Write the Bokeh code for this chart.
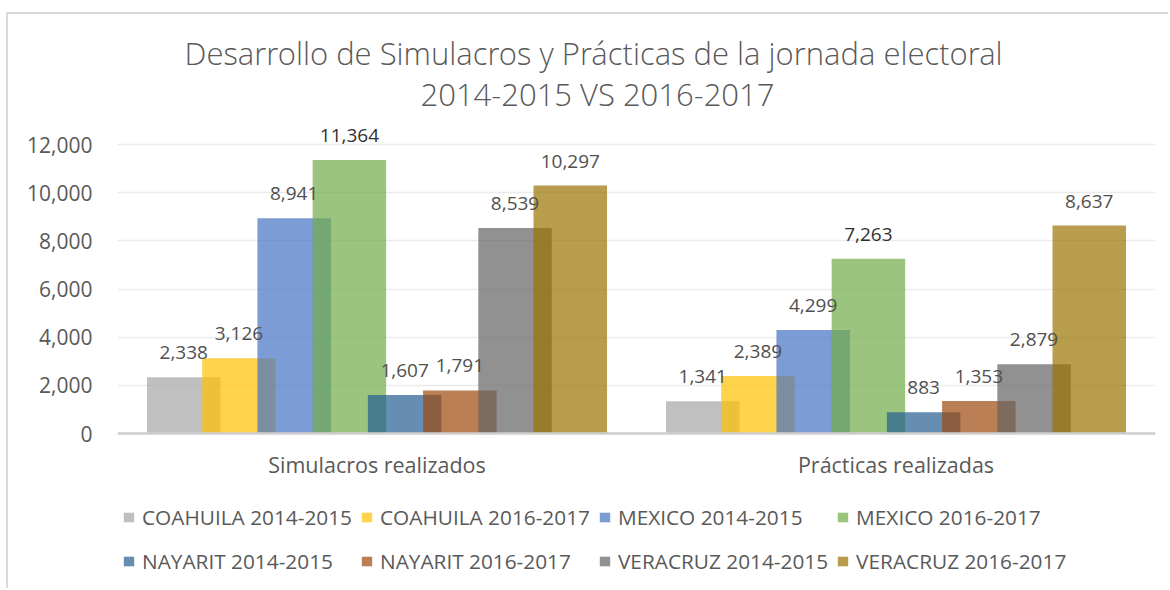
from bokeh.plotting import figure
from bokeh.models import (ColumnDataSource, FactorRange, Range1d, LabelSet, Legend, LegendItem,
                          Title, NumeralTickFormatter, FixedTicker, Span)
from bokeh.transform import dodge
from bokeh.core.properties import value
from bokeh.embed import file_html
from bokeh.resources import INLINE

categories = ["Simulacros realizados", "Prácticas realizadas"]
series_names = ["COAHUILA 2014-2015", "COAHUILA 2016-2017", "MEXICO 2014-2015", "MEXICO 2016-2017",
                "NAYARIT 2014-2015", "NAYARIT 2016-2017", "VERACRUZ 2014-2015", "VERACRUZ 2016-2017"]
coahuila_2014_2015 = [2338, 1341]
coahuila_2016_2017 = [3126, 2389]
mexico_2014_2015 = [8941, 4299]
mexico_2016_2017 = [11364, 7263]
nayarit_2014_2015 = [1607, 883]
nayarit_2016_2017 = [1791, 1353]
veracruz_2014_2015 = [8539, 2879]
veracruz_2016_2017 = [10297, 8637]
series_values = [coahuila_2014_2015, coahuila_2016_2017, mexico_2014_2015, mexico_2016_2017,
                 nayarit_2014_2015, nayarit_2016_2017, veracruz_2014_2015, veracruz_2016_2017]
y_ticks = [0, 2000, 4000, 6000, 8000, 10000, 12000]
colors = ["#A5A5A5", "#FFC000", "#4472C4", "#70AD47", "#255E91", "#9E480E", "#636363", "#997300"]
label_colors = ["#505050", "#505050", "#505050", "#303030", "#505050", "#505050", "#505050", "#505050"]
title_line1 = "Desarrollo de Simulacros y Prácticas de la jornada electoral"
title_line2 = "2014-2015 VS 2016-2017"

FONT = "Open Sans"
TFONT = "'Open Sans Light', 'Open Sans'"
GRAY = "#595959"

# the frame also holds the category labels and the legend below the value 0
p = figure(x_range=FactorRange(factors=categories, range_padding=0),
           y_range=Range1d(-6516, 13000),
           width=1162, height=576, output_backend="svg", toolbar_location=None,
           title=None, min_border_left=109, min_border_right=15, min_border_top=106,
           min_border_bottom=0,
           styles={"margin-left": "6px", "margin-top": "12px",
                   "border-left": "2px solid #d9d9d9", "border-top": "2px solid #d9d9d9"})
p.outline_line_color = None
p.background_fill_color = "white"

step = 0.1064
bar_w = 0.1416
items = []
for i, (name, vals, col, lc) in enumerate(zip(series_names, series_values, colors, label_colors)):
    off = (i - 3.5) * step
    src = ColumnDataSource(dict(cat=categories, val=vals, lab=[f"{v:,}" for v in vals]))
    r = p.vbar(x=dodge("cat", off, range=p.x_range), top="val", width=bar_w, source=src,
               fill_color=col, fill_alpha=0.7, line_color=None)
    items.append(LegendItem(label=name, renderers=[r]))
    labels = LabelSet(x=dodge("cat", off, range=p.x_range), y="val", text="lab", source=src,
                      text_align="center", text_baseline="alphabetic", y_offset=18,
                      text_font=value(FONT), text_font_size="19px", text_color=lc)
    p.add_layout(labels)

# category axis line and labels
p.add_layout(Span(location=0, dimension="width", line_color="#CFCFCF", line_width=2.5))
cat_src = ColumnDataSource(dict(cat=categories, y=[0] * len(categories)))
p.add_layout(LabelSet(x="cat", y="y", text="cat", source=cat_src, text_align="center",
                      text_baseline="middle", y_offset=-31, text_font=value(FONT),
                      text_font_size="21.5px", text_color=GRAY))
p.xaxis.visible = False

# value axis
p.yaxis.ticker = FixedTicker(ticks=y_ticks)
p.yaxis.formatter = NumeralTickFormatter(format="0,0")
p.yaxis.axis_line_color = None
p.yaxis.major_tick_line_color = None
p.yaxis.minor_tick_line_color = None
p.yaxis.major_label_standoff = 19
p.yaxis.major_label_text_font = FONT
p.yaxis.major_label_text_font_size = "21px"
p.yaxis.major_label_text_color = GRAY

p.xgrid.grid_line_color = None
p.ygrid.grid_line_color = "#EBEBEB"
p.ygrid.grid_line_width = 1.5

# titles (spacer nearest the frame, then line 2, then line 1)
spacer = Title(text=" ", text_font_size="1px", standoff=3)
t2 = Title(text=title_line2, align="left", offset=303, standoff=0,
           text_font=TFONT, text_font_size="31px", text_font_style="normal", text_color=GRAY)
t1 = Title(text=title_line1, align="left", offset=67, standoff=-6,
           text_font=TFONT, text_font_size="31px", text_font_style="normal", text_color=GRAY)
p.add_layout(spacer, "above")
p.add_layout(t2, "above")
p.add_layout(t1, "above")

legend = Legend(items=items, orientation="horizontal", ncols=4, location=(5, 11),
                glyph_width=13, glyph_height=12, label_standoff=7, spacing=8,
                label_height=36, padding=0, margin=0,
                label_text_font=FONT, label_text_font_size="20.8px", label_text_color=GRAY,
                border_line_color=None, background_fill_alpha=0)
p.add_layout(legend, "center")

open("out.html", "w").write(file_html(p, INLINE))
